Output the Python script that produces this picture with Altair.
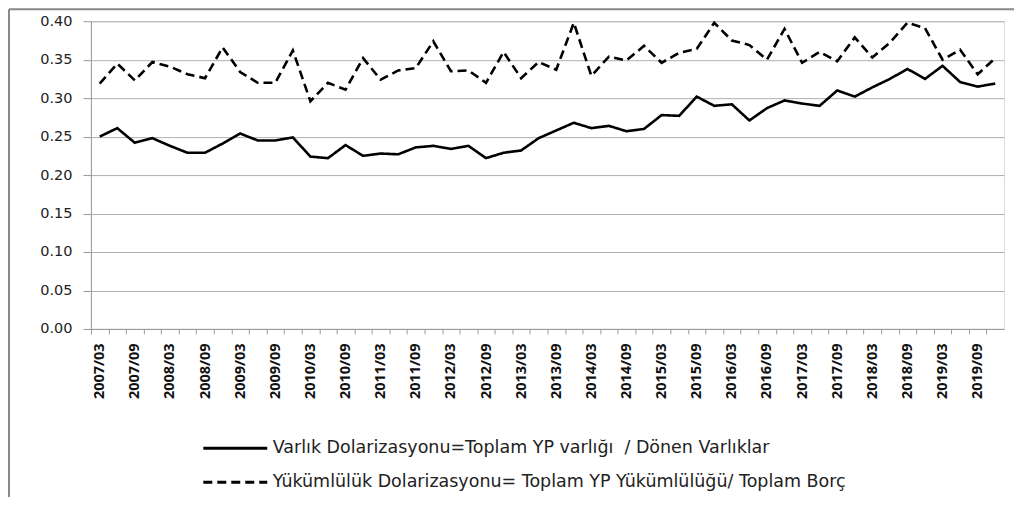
import altair as alt
import pandas as pd

years = list(range(2007, 2020))
months = ["03", "06", "09", "12"]
quarters = [f"{y}/{m}" for y in years for m in months]

varlik = [0.250, 0.261, 0.242, 0.248, 0.238, 0.229, 0.229, 0.241, 0.254, 0.245,
          0.245, 0.249, 0.224, 0.222, 0.239, 0.225, 0.228, 0.227, 0.236, 0.238,
          0.234, 0.238, 0.222, 0.229, 0.232, 0.248, 0.258, 0.268, 0.261, 0.264,
          0.257, 0.260, 0.278, 0.277, 0.302, 0.290, 0.292, 0.271, 0.287, 0.297,
          0.293, 0.290, 0.310, 0.302, 0.314, 0.325, 0.338, 0.325, 0.342, 0.321,
          0.315, 0.319]

yukum = [0.319, 0.345, 0.323, 0.347, 0.341, 0.331, 0.326, 0.366, 0.334, 0.320,
         0.320, 0.362, 0.296, 0.320, 0.311, 0.352, 0.324, 0.336, 0.339, 0.374,
         0.335, 0.336, 0.320, 0.360, 0.326, 0.347, 0.337, 0.398, 0.329, 0.354,
         0.349, 0.368, 0.346, 0.359, 0.364, 0.398, 0.375, 0.369, 0.350, 0.390,
         0.346, 0.360, 0.348, 0.379, 0.353, 0.372, 0.398, 0.391, 0.350, 0.363,
         0.331, 0.352]

s1 = "Varlık Dolarizasyonu=Toplam YP varlığı\u00a0 / Dönen Varlıklar"
s2 = "Yükümlülük Dolarizasyonu= Toplam YP Yükümlülüğü/ Toplam Borç"
y_ticks = [0.0, 0.05, 0.10, 0.15, 0.20, 0.25, 0.30, 0.35, 0.40]

df = pd.DataFrame({
    "donem": quarters * 2,
    "deger": varlik + yukum,
    "seri": [s1] * len(quarters) + [s2] * len(quarters),
})

W, H = 914, 308
half_band = W / len(quarters) / 2

lines = alt.Chart(df).mark_line(color="black", strokeWidth=2.6).encode(
    x=alt.X("donem:O", sort=quarters,
            scale=alt.Scale(type="point", padding=0.5),
            axis=alt.Axis(title=None, labelAngle=-90, orient="bottom",
                          tickOffset=-half_band, labelOffset=half_band,
                          labelExpr="(slice(datum.value,5)=='03'||slice(datum.value,5)=='09') ? datum.value : ''",
                          labelOverlap=False, labelFont="Open Sans", labelFontWeight="bold",
                          labelFontSize=14.5, labelColor="#111", labelPadding=9,
                          tickSize=5, tickColor="#999", domainColor="#999", grid=False)),
    y=alt.Y("deger:Q", scale=alt.Scale(domain=[0, 0.4], nice=False, zero=True),
            axis=alt.Axis(title=None, values=y_ticks, format=".2f", labelFont="DejaVu Sans",
                          labelFontSize=14.5, labelColor="#222", labelPadding=11,
                          tickSize=8, tickColor="#999", domainColor="#999",
                          grid=True, gridColor="#b0b0b0", gridWidth=1)),
    strokeDash=alt.StrokeDash("seri:N",
        scale=alt.Scale(domain=[s1, s2], range=[[1, 0], [9, 5]]),
        legend=alt.Legend(title=None, orient="none", legendX=135, legendY=418,
                          direction="vertical", symbolType="M-4,0H4", symbolSize=256,
                          symbolStrokeWidth=3, symbolStrokeColor="black",
                          labelFont="DejaVu Sans", labelFontSize=17.5, labelColor="#222",
                          labelLimit=0, labelOffset=28, rowPadding=16)),
)

frame_df = pd.DataFrame({"k": [0]})
left_border = alt.Chart(frame_df).mark_rule(color="#888", strokeWidth=2).encode(
    x=alt.value(-82), y=alt.value(-12), y2=alt.value(490))
top_border = alt.Chart(frame_df).mark_rule(color="#888", strokeWidth=2).encode(
    x=alt.value(-82), x2=alt.value(930), y=alt.value(-12))

chart = alt.layer(lines, left_border, top_border).properties(
    width=W, height=H,
    autosize=alt.AutoSizeParams(type="none"),
    padding={"left": 83, "top": 13, "right": 10, "bottom": 168},
).configure_view(stroke=None).configure(background="white")

chart.save("out.html", embed_options={"renderer": "svg", "actions": False})
